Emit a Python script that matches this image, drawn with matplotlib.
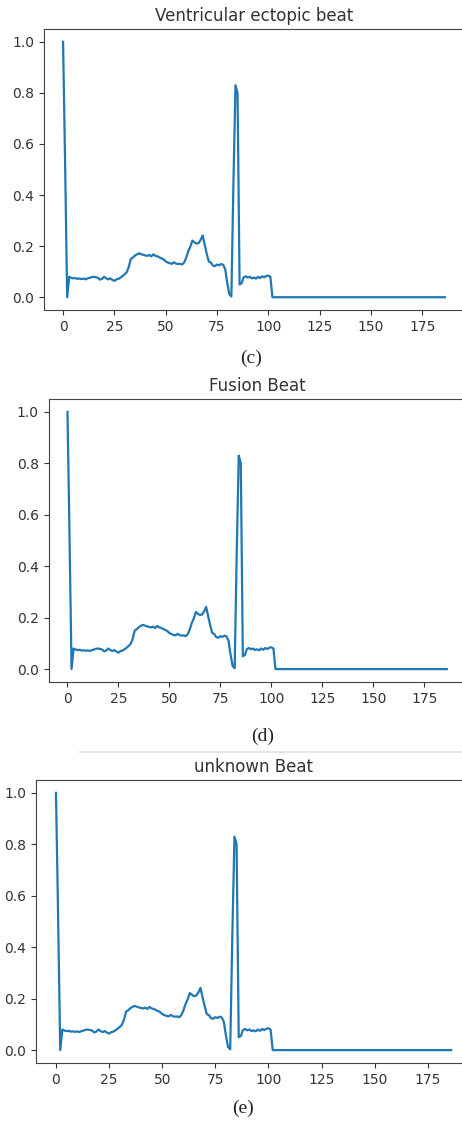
import matplotlib.pyplot as plt
from matplotlib.lines import Line2D

#beat titles and sub-figure captions
titles = ['Ventricular ectopic beat', 'Fusion Beat', 'unknown Beat']
captions = ['(c)', '(d)', '(e)']

#sample values (187 samples, same shape in all three panels)
beat_start = [1.000, 0.520, 0.000, 0.080, 0.076, 0.074, 0.075, 0.072, 0.073, 0.071,
              0.073, 0.070, 0.074, 0.076, 0.079, 0.080, 0.078, 0.076, 0.069, 0.072,
              0.080, 0.074, 0.070, 0.074, 0.068, 0.064, 0.070, 0.072, 0.077, 0.083,
              0.090, 0.098, 0.118, 0.150, 0.155, 0.163, 0.168, 0.172, 0.169, 0.166,
              0.164, 0.162, 0.165, 0.160, 0.168, 0.162, 0.160, 0.156, 0.152, 0.148,
              0.140, 0.136, 0.133, 0.131, 0.137, 0.132, 0.130, 0.131, 0.128, 0.136,
              0.155, 0.180, 0.198, 0.222, 0.215, 0.210, 0.212, 0.224, 0.242, 0.205,
              0.170, 0.140, 0.136, 0.124, 0.122, 0.128, 0.125, 0.130, 0.127, 0.110,
              0.055, 0.012, 0.003, 0.450, 0.830, 0.800, 0.050, 0.055, 0.078, 0.082,
              0.077, 0.080, 0.074, 0.077, 0.073, 0.080, 0.075, 0.082, 0.078, 0.083,
              0.085, 0.080, 0.000]
beat_tail = [0.0] * 84
beat = beat_start + beat_tail
samples = list(range(len(beat)))

fig = plt.figure(figsize=(4.62, 11.22), dpi=100)

#axes boxes in figure fractions [left, bottom, width, height]
boxes = [[0.0952, 0.7237, 0.909, 0.2504],
         [0.1050, 0.3922, 0.903, 0.2522],
         [0.0784, 0.0526, 0.941, 0.2522]]
#caption centres (x, y) in figure fractions
cap_pos = [(0.543, 1 - 358 / 1122), (0.569, 1 - 736 / 1122), (0.526, 1 - 1108 / 1122)]

for i in range(3):
    ax = fig.add_axes(boxes[i])
    ax.plot(samples, beat, color='#1f77b4', linewidth=1.6)
    ax.set_xticks([0, 25, 50, 75, 100, 125, 150, 175])
    ax.set_yticks([0.0, 0.2, 0.4, 0.6, 0.8, 1.0])
    ax.set_title(titles[i], fontsize=12, color='#333333')
    ax.tick_params(colors='#333333', labelsize=10)
    for s in ax.spines.values():
        s.set_color('#444444')
    fig.text(cap_pos[i][0], cap_pos[i][1], captions[i], ha='center', va='center',
             fontsize=14, family='Liberation Serif', color='#222222')

#faint scan line between (d) and (e)
fig.add_artist(Line2D([80 / 462, 1.0], [1 - 752 / 1122, 1 - 752 / 1122],
                      color='#e4e6ee', linewidth=1.5, transform=fig.transFigure))

plt.savefig('out.png', dpi=100)
